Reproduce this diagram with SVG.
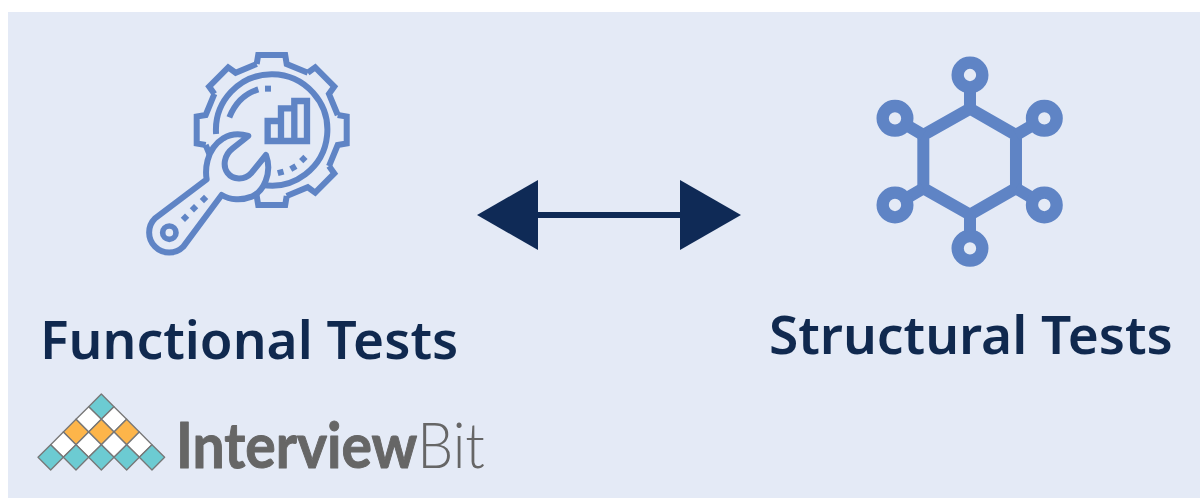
<svg xmlns="http://www.w3.org/2000/svg" width="1200" height="498" viewBox="0 0 1200 498">
<style>
.ic{fill:none;stroke:#5f84c5;stroke-linejoin:miter}
.sq{fill:#5f84c5}
.t{font-family:"Noto Sans","Open Sans",sans-serif;font-weight:600;fill:#10294f;font-size:53.2px}
.d{stroke:#777;stroke-width:4;stroke-linejoin:round}
.te{fill:#6ccbd2}.wh{fill:#fff}.or{fill:#fdb54a}
.hub{fill:#e4eaf6;stroke:#5f84c5;stroke-width:37}
</style>
<defs>
<path id="seg" d="M-15,-66L-13.5,-75L13.5,-75L15,-66L36.1,-57.3" class="ic" stroke-width="6"/>
<path id="dia" d="M0,-38L38,0L0,38L-38,0Z"/>
<rect id="dot" x="-9" y="-9" width="18" height="18" class="sq"/>
</defs>
<rect width="1200" height="498" fill="#fff"/>
<rect x="8" y="12" width="1192" height="486" fill="#e4eaf6"/>

<g id="functional-tests">
<g transform="translate(271.7 130)">
<use href="#seg"/><use href="#seg" transform="rotate(45)"/><use href="#seg" transform="rotate(90)"/><use href="#seg" transform="rotate(135)"/><use href="#seg" transform="rotate(180)"/><use href="#seg" transform="rotate(225)"/><use href="#seg" transform="rotate(270)"/><use href="#seg" transform="rotate(315)"/>
<path d="M-10,54.8A55.7,55.7 0 1 0 -55.6,4" class="ic" stroke-width="6"/>
</g>
<g transform="translate(130 40) scale(.3333)">
<path d="M298,232C315,190 345,160 385,148" class="ic" stroke-width="18"/>
<use href="#dot" x="414" y="146"/>
<use href="#dot" transform="translate(452 397) rotate(-15)"/>
<use href="#dot" transform="translate(490 383) rotate(-30)"/>
<use href="#dot" transform="translate(520 357) rotate(-45)"/>
<path d="M413,303V243H453M453,303V205H493M493,303V183H531V303ZM413,243V303H531M453,243V303M493,205V303" class="ic" stroke-width="19"/>
<path d="M230,418C226,395 225,330 280,295C305,280 335,282 355,288L308,325C282,345 278,378 292,398C310,422 345,420 365,398L408,345C428,400 400,455 365,470C335,482 300,480 275,465L160,620A60,60 0 0 1 75,535Z" fill="#e4eaf6" stroke="#5f84c5" stroke-width="18" stroke-linejoin="round"/>
<circle cx="118" cy="578" r="20" class="ic" stroke-width="17"/>
<use href="#dot" transform="translate(222 477) rotate(45)"/>
<use href="#dot" transform="translate(192 505) rotate(45)"/>
<use href="#dot" transform="translate(165 533) rotate(45)"/>
</g>
<text class="t" x="40" y="359">Functional Tests</text>
</g>

<g id="structural-tests">
<g transform="translate(860 45) scale(.3333)">
<path d="M330,191L468,270V430L330,509L190,430V270Z" class="ic" stroke-width="36"/>
<path d="M330,90V191M105,220L190,270M553,220L468,270M105,480L190,430M553,480L468,430M330,610V509" class="ic" stroke-width="36"/>
<circle cx="330" cy="90" r="37" class="hub"/><circle cx="105" cy="220" r="37" class="hub"/><circle cx="553" cy="220" r="37" class="hub"/><circle cx="105" cy="480" r="37" class="hub"/><circle cx="553" cy="480" r="37" class="hub"/><circle cx="330" cy="610" r="37" class="hub"/>
</g>
<text class="t" x="769" y="354">Structural Tests</text>
</g>

<g id="connectors">
<path d="M535,215H684" stroke="#0f2a56" stroke-width="6" fill="none"/>
<path d="M477,215L538,180V250Z" fill="#0f2a56"/>
<path d="M741,215L680,180V250Z" fill="#0f2a56"/>
</g>

<g id="interviewbit-logo">
<g transform="translate(30 385) scale(.3333)">
<use href="#dia" x="214" y="65" class="d te"/>
<use href="#dia" x="176" y="103" class="d wh"/><use href="#dia" x="252" y="103" class="d wh"/>
<use href="#dia" x="138" y="141" class="d or"/><use href="#dia" x="214" y="141" class="d or"/><use href="#dia" x="290" y="141" class="d or"/>
<use href="#dia" x="100" y="179" class="d wh"/><use href="#dia" x="176" y="179" class="d wh"/><use href="#dia" x="252" y="179" class="d wh"/><use href="#dia" x="328" y="179" class="d wh"/>
<use href="#dia" x="62" y="217" class="d te"/><use href="#dia" x="138" y="217" class="d te"/><use href="#dia" x="214" y="217" class="d te"/><use href="#dia" x="290" y="217" class="d te"/><use href="#dia" x="366" y="217" class="d te"/>
</g>
<text transform="translate(176 468) scale(.905 1)" font-family="Lato,'Open Sans',sans-serif" font-size="63" fill="#666"><tspan font-weight="700" stroke="#666" stroke-width="1" stroke-linejoin="round">Interview</tspan><tspan font-weight="300">Bit</tspan></text>
</g>
</svg>
